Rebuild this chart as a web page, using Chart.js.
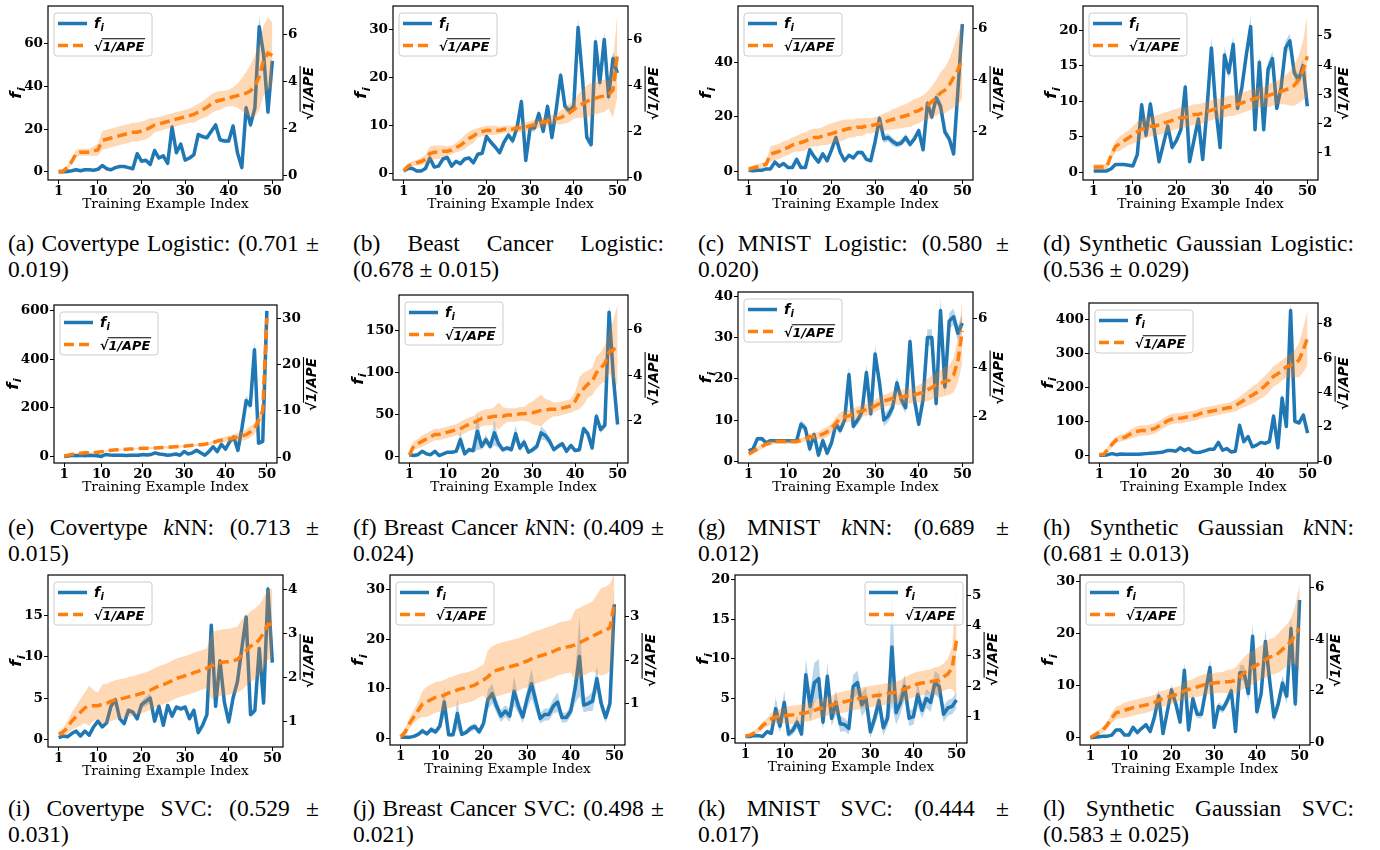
<!DOCTYPE html>
<html>
<head>
<meta charset="utf-8">
<title>f_i vs sqrt(1/APE)</title>
<script src="https://cdn.jsdelivr.net/npm/chart.js@4.4.1/dist/chart.umd.min.js"></script>
<style>
  body { margin: 0; background: #fff; width: 1380px; height: 850px; position: relative; overflow: hidden; }
  canvas { position: absolute; }
  .cap { position: absolute; width: 311px; font-family: "Liberation Serif", serif; font-size: 23.5px; line-height: 26px; color: #000; }
  .cap .l1 { text-align: justify; text-align-last: justify; white-space: nowrap; }
</style>
</head>
<body>
<script>
// x values and ticks
const exampleIndex = [1,2,3,4,5,6,7,8,9,10,11,12,13,14,15,16,17,18,19,20,21,22,23,24,25,
  26,27,28,29,30,31,32,33,34,35,36,37,38,39,40,41,42,43,44,45,46,47,48,49,50];
const xTicks = [1, 10, 20, 30, 40, 50];

// (a) Covertype Logistic
const covLogF = [0.2,0.1,0.2,0.5,1,0.5,1,1,0.8,1.2,
  3,1.5,1,2,2.5,2.5,2,1.5,8.5,5,
  5.5,3.5,10,6.5,7.5,4,21,9,13,5.5,
  6.5,8,17.5,16.5,16,19,22,15,14.5,14.5,
  21.5,9,2,30,22,30,68,55,28,52];
const covLogFErr = [0.3,0.3,0.3,0.3,0.3,0.3,0.3,0.3,0.3,0.3,
  0.5,0.3,0.3,0.4,0.4,0.4,0.4,0.4,0.8,0.5,
  0.5,0.5,0.8,0.6,0.6,0.5,1.5,0.8,1,0.6,
  0.6,0.6,1,1,1,1,1.2,1,1,1,
  1.2,1,1,2,1.5,2,5,3,2,3];
const covLogA = [0.15,0.2,0.35,0.6,0.95,1,1,1,1.05,1.1,
  1.5,1.55,1.6,1.65,1.7,1.75,1.8,1.85,1.85,1.9,
  1.95,2.05,2.15,2.2,2.25,2.3,2.35,2.4,2.45,2.5,
  2.55,2.6,2.7,2.8,2.9,3.05,3.15,3.2,3.25,3.3,
  3.35,3.4,3.45,3.5,3.6,3.8,4.2,4.9,5.2,5.1];
const covLogAErr = [0.1,0.1,0.1,0.12,0.15,0.15,0.15,0.15,0.2,0.25,
  0.4,0.4,0.4,0.4,0.4,0.4,0.4,0.4,0.4,0.4,
  0.4,0.4,0.3,0.3,0.3,0.3,0.3,0.3,0.3,0.3,
  0.3,0.35,0.35,0.35,0.4,0.4,0.4,0.4,0.35,0.35,
  0.4,0.5,0.7,0.9,1.1,1.3,1.4,1.5,1.5,1.4];

// (b) Breast Cancer Logistic
const bcLogF = [0.5,1,1,0.5,0.5,1,3.2,1.3,1.5,3,
  3.3,1.5,2.5,2,3,3.2,2.2,4,4.2,7.7,
  6.5,5.5,4.3,6.5,8,6.8,9.5,15,2.7,9.5,
  9.5,12.5,8.8,14,7.5,13.5,20.5,14,13,14,
  30.5,20,7.5,6,27.5,19,28,16,24,21];
const bcLogFErr = [0.3,0.3,0.3,0.3,0.3,0.3,0.4,0.3,0.3,0.3,
  0.4,0.3,0.3,0.3,0.3,0.3,0.3,0.3,0.4,0.5,
  0.5,0.4,0.4,0.5,0.6,0.8,0.6,1,0.5,0.7,
  0.8,0.8,0.8,0.8,0.8,0.8,1,0.8,0.8,0.8,
  2,1,1,0.8,1.5,1.5,1.5,1.2,1.5,2];
const bcLogA = [0.3,0.5,0.6,0.65,0.7,0.8,1.05,1.1,1.1,1.15,
  1.15,1.2,1.3,1.4,1.55,1.7,1.8,1.95,2,2.05,
  2.05,2.05,2.05,2.1,2.1,2.1,2.15,2.15,2.2,2.25,
  2.3,2.35,2.4,2.45,2.5,2.55,2.6,2.7,2.8,2.95,
  3.1,3.2,3.3,3.4,3.45,3.5,3.55,3.6,3.8,5.3];
const bcLogAErr = [0.1,0.1,0.12,0.12,0.15,0.2,0.3,0.3,0.3,0.25,
  0.2,0.2,0.2,0.25,0.3,0.3,0.3,0.2,0.2,0.2,
  0.2,0.2,0.15,0.15,0.15,0.15,0.15,0.2,0.2,0.2,
  0.2,0.2,0.2,0.2,0.2,0.2,0.3,0.35,0.4,0.4,
  0.5,0.6,0.7,0.7,0.7,0.7,0.7,0.6,1.2,1.8];

// (c) MNIST Logistic
const mnLogF = [0.5,0.3,0.5,0.5,1,1,3.5,2,3,1.5,
  1.5,4.5,1.5,1.5,8,5.5,3.5,6.5,4,8,
  12.5,7,4,6,5,7,7,4.5,4,11,
  19.5,12,12.5,11,10,10.5,12.5,10,12,15,
  8,25,20,27,24,14.5,12,6.5,30,54];
const mnLogFErr = [0.3,0.3,0.3,0.3,0.3,0.3,0.8,0.5,0.5,0.4,
  0.4,0.6,0.4,0.4,0.8,0.6,0.5,0.6,0.5,0.8,
  1,0.7,0.5,0.6,0.5,0.7,0.7,0.5,0.5,1,
  1.5,1.5,1.5,1.5,1.2,1.2,1.5,1.2,1.2,1.2,
  1,1.5,1.5,2,2,1.5,1.5,1,3,3];
const mnLogA = [0.5,0.55,0.6,0.65,0.7,1.1,1.15,1.2,1.3,1.35,
  1.45,1.5,1.55,1.6,1.7,1.75,1.75,1.8,1.85,1.9,
  1.95,2,2.05,2.1,2.1,2.15,2.15,2.2,2.2,2.25,
  2.3,2.35,2.4,2.45,2.5,2.55,2.6,2.65,2.75,2.8,
  2.9,3,3.15,3.3,3.5,3.6,3.8,4.1,4.4,4.8];
const mnLogAErr = [0.1,0.1,0.1,0.1,0.1,0.3,0.3,0.3,0.3,0.3,
  0.3,0.3,0.35,0.35,0.35,0.35,0.35,0.35,0.4,0.4,
  0.4,0.4,0.4,0.35,0.35,0.35,0.35,0.3,0.3,0.3,
  0.3,0.35,0.35,0.4,0.4,0.45,0.45,0.5,0.5,0.5,
  0.5,0.55,0.6,0.7,0.8,0.9,1,1.2,1.4,1.5];

// (d) Synthetic Gaussian Logistic
const sgLogF = [0.2,0.2,0.2,0.2,0.5,1.1,1.1,1.1,1,0.9,
  2.5,9.5,5.2,9.6,5.5,1.5,4,6.5,3.5,4.5,
  6,12,1.5,4.5,7.5,1.8,9,17.5,9,3.5,
  16.5,14,18,9,12,16.5,20.5,6,15.5,6,
  14.5,16,9,12,17.5,18.5,14,13,15,9.3];
const sgLogFErr = [0.1,0.1,0.1,0.1,0.1,0.2,0.2,0.2,0.2,0.2,
  0.3,0.8,0.6,0.8,0.5,0.3,0.4,0.5,0.4,0.4,
  0.5,0.8,0.3,0.5,0.6,0.3,0.6,1.5,0.6,0.4,
  1.2,0.8,1.2,0.6,0.8,1,1.5,0.5,1,0.5,
  1,1,0.6,0.8,1,1,0.8,0.8,1,0.6];
const sgLogA = [0.5,0.5,0.5,0.5,0.9,1.2,1.3,1.4,1.5,1.6,
  1.7,1.8,1.85,1.9,1.9,1.95,2,2.05,2.1,2.15,
  2.2,2.2,2.25,2.3,2.3,2.35,2.4,2.45,2.5,2.5,
  2.55,2.6,2.6,2.65,2.7,2.75,2.8,2.85,2.9,2.9,
  2.95,3,3.05,3.1,3.15,3.2,3.3,3.5,3.8,4.3];
const sgLogAErr = [0.1,0.1,0.1,0.1,0.15,0.2,0.25,0.25,0.25,0.3,
  0.35,0.35,0.35,0.35,0.35,0.35,0.35,0.35,0.35,0.35,
  0.35,0.35,0.35,0.35,0.35,0.35,0.35,0.35,0.35,0.35,
  0.35,0.35,0.35,0.35,0.35,0.35,0.35,0.35,0.35,0.35,
  0.4,0.4,0.4,0.45,0.5,0.6,0.7,0.8,1,1.4];

// (e) Covertype kNN
const covKnnF = [0,2,5,3,5,3,5,4,3,0,
  8,6,5,5,5,4,5,5,5,8,
  6,8,15,10,8,5,7,10,5,20,
  10,15,25,15,5,20,40,20,50,30,
  60,80,25,120,230,210,440,55,62,600];
const covKnnFErr = [1,1,1,1,1,1,1,1,1,1,
  2,2,2,2,2,2,2,2,2,2,
  2,2,2,2,2,2,2,2,2,2,
  3,3,3,3,3,4,5,5,6,6,
  8,10,10,12,20,15,40,10,10,15];
const covKnnA = [0.3,0.5,0.7,0.8,0.9,1,1,1,1.1,1.2,
  1.4,1.5,1.6,1.65,1.7,1.75,1.8,1.85,1.9,1.95,
  2,2,2.05,2.1,2.15,2.2,2.25,2.3,2.35,2.4,
  2.5,2.6,2.7,2.75,2.85,3,3.2,3.5,3.7,3.9,
  4,4.2,4.4,4.6,4.9,5.5,6.2,8,10,30];
const covKnnAErr = [0.1,0.1,0.1,0.1,0.1,0.1,0.1,0.1,0.1,0.1,
  0.15,0.15,0.15,0.15,0.15,0.15,0.15,0.15,0.15,0.15,
  0.2,0.2,0.2,0.2,0.2,0.2,0.2,0.2,0.2,0.2,
  0.2,0.2,0.25,0.25,0.3,0.3,0.4,0.5,0.5,0.6,
  0.7,0.8,0.9,1,1.1,1.2,1.2,1.2,1.2,1];

// (f) Breast Cancer kNN
const bcKnnF = [2,1,2,6,3,2,6,1,3,5,
  5,6,20,3,8,7,30,12,20,12,
  28,15,8,10,8,27,10,17,5,8,
  12,28,25,18,8,12,15,6,13,7,
  8,33,27,10,48,32,37,172,95,38];
const bcKnnFErr = [1,1,1,1,1,1,1,1,1,1,
  1,1,10,2,3,3,22,4,6,4,
  15,5,3,3,3,10,4,5,2,3,
  4,8,6,5,2,3,3,2,3,2,
  2,4,4,3,4,4,4,10,8,3];
const bcKnnA = [0.5,0.9,1,1.1,1.2,1.3,1.4,1.4,1.45,1.5,
  1.55,1.6,1.65,1.75,1.85,1.9,2,2.1,2.15,2.15,
  2.2,2.2,2.2,2.25,2.25,2.25,2.3,2.3,2.35,2.35,
  2.4,2.45,2.45,2.5,2.5,2.5,2.55,2.6,2.65,2.85,
  3.2,3.4,3.6,3.7,4.1,4.3,4.5,5,5.1,5.3];
const bcKnnAErr = [0.15,0.2,0.2,0.25,0.25,0.25,0.25,0.25,0.25,0.25,
  0.25,0.25,0.3,0.3,0.3,0.3,0.35,0.35,0.35,0.35,
  0.4,0.6,0.4,0.3,0.3,0.3,0.3,0.3,0.4,0.5,
  0.6,0.7,0.5,0.4,0.3,0.3,0.3,0.3,0.3,0.4,
  0.7,0.7,0.6,0.6,0.7,0.7,0.8,0.9,1.3,1.8];

// (g) MNIST kNN
const mnKnnF = [2.5,3,5.5,5.5,4.5,5,5,5,5,5,
  5,5,9,8,3,6.5,1.5,5,2,4.5,
  9,7.5,10,21,8.5,10,12,21.5,11.5,26,
  19,10,11,13,19,15,13,29,15,9,
  15,30,30,14,36.5,18,34,35,31,33.5];
const mnKnnFErr = [0.5,0.5,0.5,0.5,0.3,0.3,0.3,0.3,0.3,0.3,
  0.3,0.3,1,1,1,1,0.8,1,0.8,1,
  1,1,1,2,1,1,1.5,2,1.5,2,
  1.5,1.5,1.5,1.5,1.5,1.5,1.5,2,1.5,1,
  1.5,2,2,2,3,2,2,2,2,2];
const mnKnnA = [0.5,0.6,0.7,0.8,0.9,0.95,1,1,1,1,
  1,1,1.05,1.1,1.2,1.2,1.25,1.3,1.4,1.55,
  1.75,1.95,2,2.05,2.1,2.2,2.25,2.3,2.35,2.45,
  2.55,2.65,2.7,2.75,2.8,2.8,2.85,2.85,2.9,2.95,
  3,3.1,3.2,3.3,3.35,3.45,3.5,3.7,4.3,5.5];
const mnKnnAErr = [0.1,0.1,0.1,0.1,0.1,0.1,0.1,0.1,0.1,0.1,
  0.1,0.1,0.1,0.1,0.15,0.15,0.15,0.2,0.2,0.2,
  0.25,0.25,0.25,0.25,0.25,0.25,0.25,0.25,0.25,0.25,
  0.25,0.25,0.25,0.3,0.3,0.3,0.3,0.3,0.3,0.35,
  0.4,0.45,0.5,0.5,0.55,0.6,0.6,0.7,0.9,1.3];

// (h) Synthetic Gaussian kNN
const sgKnnF = [0,0,2,5,2,4,3,3,3,3,
  4,5,6,7,8,10,14,14,12,22,
  14,20,10,8,10,14,18,18,38,15,
  20,10,12,88,40,55,25,30,38,35,
  40,115,22,168,85,425,100,95,118,65];
const sgKnnFErr = [1,1,1,1,1,1,1,1,1,1,
  1,1,1,1,1,1,2,2,2,3,
  2,3,2,2,2,2,3,3,5,2,
  3,2,2,8,4,5,3,3,4,3,
  4,10,3,12,6,25,6,6,8,5];
const sgKnnA = [0.4,0.4,0.7,1,1.25,1.35,1.4,1.55,1.65,1.75,
  1.8,1.8,1.85,1.9,2.05,2.2,2.35,2.45,2.5,2.5,
  2.55,2.6,2.65,2.7,2.8,2.85,2.9,2.95,3,3.05,
  3.1,3.15,3.25,3.4,3.55,3.7,3.85,4,4.2,4.4,
  4.65,4.95,5.1,5.3,5.5,5.6,5.7,5.9,6.5,7.2];
const sgKnnAErr = [0.1,0.1,0.15,0.2,0.2,0.2,0.2,0.25,0.3,0.3,
  0.3,0.3,0.3,0.3,0.3,0.3,0.3,0.3,0.3,0.3,
  0.3,0.3,0.3,0.3,0.3,0.3,0.3,0.3,0.3,0.3,
  0.3,0.3,0.35,0.35,0.4,0.45,0.5,0.5,0.55,0.6,
  0.6,0.6,0.6,0.6,0.6,0.7,0.8,1,1.3,1.6];

// (i) Covertype SVC
const covSvcF = [0.2,0.4,0.3,0.7,1,0.4,1,0.5,1.5,2.2,
  1.5,2,4,4.8,2.5,1.9,3.5,3.3,2.5,4.2,
  4.6,5,2.2,4,1.7,4.1,2.8,3.9,3.7,3.9,
  2.5,3.5,0.8,1.7,3,13.8,4,9.5,4.5,2.1,
  5,7,11,14.8,3,3.5,11,4.4,18.2,9.3];
const covSvcFErr = [0.1,0.1,0.1,0.1,0.1,0.1,0.1,0.1,0.1,0.1,
  0.2,0.2,0.3,0.4,0.3,0.2,0.3,0.3,0.3,0.4,
  0.6,0.6,0.3,0.3,0.2,0.3,0.3,0.3,0.3,0.3,
  0.3,0.3,0.2,0.3,0.3,0.6,0.4,0.5,0.4,0.3,
  0.5,0.5,0.5,0.7,0.4,0.4,0.6,0.4,1,0.6];
const covSvcA = [0.7,0.75,0.85,1,1.1,1.2,1.3,1.35,1.35,1.35,
  1.38,1.4,1.45,1.48,1.5,1.52,1.55,1.57,1.6,1.63,
  1.66,1.7,1.75,1.8,1.83,1.87,1.92,1.97,2,2.03,
  2.06,2.1,2.13,2.17,2.2,2.25,2.3,2.32,2.34,2.35,
  2.37,2.4,2.5,2.6,2.7,2.75,2.85,3,3.2,3.2];
const covSvcAErr = [0.05,0.1,0.15,0.2,0.25,0.3,0.35,0.45,0.35,0.3,
  0.45,0.45,0.45,0.45,0.45,0.45,0.45,0.45,0.45,0.45,
  0.45,0.45,0.45,0.45,0.45,0.45,0.45,0.45,0.45,0.45,
  0.45,0.45,0.45,0.45,0.45,0.75,0.75,0.75,0.75,0.75,
  0.75,0.75,0.8,0.8,0.8,0.8,0.8,0.8,0.8,0.8];

// (j) Breast Cancer SVC
const bcSvcF = [0.2,0.2,0.2,0.4,0.8,1.5,0.9,1.8,1.3,2.5,
  7.3,0.7,0.7,5,0.8,1.2,2,2.4,1.3,3,
  7.8,9,6.5,4.5,5.5,4.5,9.5,6.5,4.3,8,
  11,7.5,4,4.8,4.8,6.5,7.3,4.2,4.2,5.5,
  10,16.5,6.7,7,7.5,12,7,4.2,7,27];
const bcSvcFErr = [0.2,0.2,0.2,0.3,0.4,0.6,0.4,0.6,0.5,0.8,
  3,0.4,0.4,3,0.4,0.5,0.7,0.7,0.5,1,
  2,2,1.5,1.2,1.2,1.2,3,1.5,1.2,2,
  3,2,1,1.2,1.2,1.5,2,1,1,1.2,
  3,8,1.5,1.5,2,2.5,1.5,1,1.5,4];
const bcSvcA = [0.25,0.35,0.55,0.7,0.85,1,1.05,1.1,1.15,1.17,
  1.2,1.25,1.28,1.32,1.35,1.37,1.4,1.43,1.5,1.55,
  1.62,1.72,1.77,1.8,1.83,1.85,1.88,1.9,1.95,1.98,
  2.03,2.07,2.1,2.13,2.17,2.2,2.25,2.28,2.3,2.32,
  2.35,2.4,2.45,2.5,2.55,2.6,2.65,2.68,2.75,3.3];
const bcSvcAErr = [0.05,0.1,0.12,0.15,0.2,0.3,0.35,0.35,0.35,0.35,
  0.35,0.35,0.35,0.35,0.35,0.35,0.35,0.35,0.35,0.35,
  0.6,0.6,0.6,0.6,0.6,0.6,0.6,0.6,0.6,0.6,
  0.6,0.6,0.6,0.6,0.6,0.6,0.6,0.6,0.6,0.6,
  0.8,0.8,0.8,0.8,0.8,0.9,1,1,1,0.7];

// (k) MNIST SVC
const mnSvcF = [0.2,0.2,0.3,0.3,0.2,0.8,0.6,3.7,1.5,4.5,
  0.5,1,2,0.5,8,4,7,7.5,2,7.8,
  2.5,4.5,1.8,1.7,1.2,6.5,7,4.2,5,0.8,
  2.5,4.7,1.3,2.5,11.5,3.2,4.5,6.5,2.5,2.7,
  5.5,3.5,5,4.5,7,6.5,3,3.8,4,4.8];
const mnSvcFErr = [0.1,0.1,0.1,0.1,0.1,0.3,0.3,1.5,0.8,1.5,
  0.4,0.6,0.8,0.4,2,2,2.5,2.5,1,1.7,
  1,1.5,1,0.8,0.8,1.5,1.5,1.5,1.5,0.8,
  1,1.5,1,1,7.5,1.5,1.5,1.5,1,1,
  1.5,1,1.2,1.2,1.5,1.5,1,1,1,1];
const mnSvcA = [0.35,0.38,0.45,0.55,0.7,0.8,0.92,0.98,1,1.02,
  1.04,1.05,1.07,1.1,1.12,1.15,1.2,1.25,1.28,1.32,
  1.38,1.42,1.45,1.48,1.52,1.55,1.58,1.6,1.63,1.65,
  1.68,1.7,1.72,1.75,1.78,1.8,1.85,1.9,1.97,2.03,
  2.07,2.1,2.13,2.15,2.17,2.2,2.3,2.4,2.6,3.5];
const mnSvcAErr = [0.05,0.05,0.08,0.1,0.12,0.15,0.2,0.2,0.25,0.25,
  0.3,0.3,0.3,0.3,0.3,0.3,0.3,0.3,0.3,0.3,
  0.3,0.35,0.35,0.35,0.35,0.35,0.35,0.35,0.35,0.35,
  0.35,0.35,0.35,0.35,0.35,0.35,0.35,0.4,0.4,0.4,
  0.4,0.4,0.4,0.4,0.45,0.45,0.45,0.5,0.7,1.8];

// (l) Synthetic Gaussian SVC
const sgSvcF = [0,0.1,0.2,0.3,0.3,0.5,1.5,1.5,0.5,0.5,
  2,1,1.8,2.5,1.2,4,8,0.8,5,9.2,
  6.5,3,13,1.5,7.5,4.5,4.5,9,13.5,2,
  6,5.5,7,9,1.2,12.5,12.5,8.5,19.5,5,
  8.5,18.5,11,4,6.5,10.5,8,21,6.5,26.5];
const sgSvcFErr = [0.1,0.1,0.1,0.1,0.1,0.2,0.3,0.3,0.2,0.2,
  0.3,0.3,0.3,0.4,0.3,0.6,1.5,0.4,0.8,1,
  0.8,0.6,1.5,0.5,0.8,0.8,0.8,1,1.5,0.5,
  0.8,0.8,1,1,0.5,1.5,1.5,1.5,2.5,1,
  1,2.5,1.5,1,1.5,1.5,1.5,2.5,1.5,3];
const sgSvcA = [0.2,0.3,0.4,0.5,0.7,0.95,1.15,1.2,1.25,1.3,
  1.35,1.38,1.42,1.45,1.5,1.55,1.65,1.7,1.75,1.8,
  1.85,1.9,2,2.05,2.1,2.15,2.2,2.25,2.28,2.3,
  2.32,2.33,2.35,2.36,2.4,2.55,2.7,2.8,2.9,3,
  3.1,3.2,3.3,3.35,3.45,3.6,3.75,3.9,4.2,4.4];
const sgSvcAErr = [0.05,0.08,0.1,0.12,0.15,0.2,0.25,0.25,0.3,0.3,
  0.3,0.3,0.3,0.3,0.3,0.3,0.3,0.3,0.3,0.3,
  0.3,0.3,0.35,0.35,0.35,0.4,0.4,0.4,0.4,0.4,
  0.4,0.4,0.45,0.45,0.5,0.55,0.6,0.65,0.65,0.65,
  0.65,0.7,0.7,0.7,0.75,0.8,0.8,0.9,1.1,1.7];

// captions
const captions = [
  ['(a) Covertype Logistic: (0.701 ±', '0.019)'],
  ['(b) Beast Cancer Logistic:', '(0.678 ± 0.015)'],
  ['(c) MNIST Logistic: (0.580 ±', '0.020)'],
  ['(d) Synthetic Gaussian Logistic:', '(0.536 ± 0.029)'],
  ['(e) Covertype <i>k</i>NN: (0.713 ±', '0.015)'],
  ['(f) Breast Cancer <i>k</i>NN: (0.409 ±', '0.024)'],
  ['(g) MNIST <i>k</i>NN: (0.689 ±', '0.012)'],
  ['(h) Synthetic Gaussian <i>k</i>NN:', '(0.681 ± 0.013)'],
  ['(i) Covertype SVC: (0.529 ±', '0.031)'],
  ['(j) Breast Cancer SVC: (0.498 ±', '0.021)'],
  ['(k) MNIST SVC: (0.444 ±', '0.017)'],
  ['(l) Synthetic Gaussian SVC:', '(0.583 ± 0.025)']
];

// panels: data, ticks and axis limits
const panels = [
  { f: covLogF, fErr: covLogFErr, a: covLogA, aErr: covLogAErr, fTicks: [0,20,40,60], aTicks: [0,2,4,6], fLim: [-3.8, 77.7], aLim: [-0.18, 7.2] },
  { f: bcLogF, fErr: bcLogFErr, a: bcLogA, aErr: bcLogAErr, fTicks: [0,10,20,30], aTicks: [0,2,4,6], fLim: [-1.4, 35], aLim: [-0.1, 7.44] },
  { f: mnLogF, fErr: mnLogFErr, a: mnLogA, aErr: mnLogAErr, fTicks: [0,20,40], aTicks: [2,4,6], fLim: [-3.05, 60.6], aLim: [0.08, 6.9] },
  { f: sgLogF, fErr: sgLogFErr, a: sgLogA, aErr: sgLogAErr, fTicks: [0,5,10,15,20], aTicks: [1,2,3,4,5], fLim: [-1.08, 23.4], aLim: [0.05, 6.03] },
  { f: covKnnF, fErr: covKnnFErr, a: covKnnA, aErr: covKnnAErr, fTicks: [0,200,400,600], aTicks: [0,10,20,30], fLim: [-27, 624], aLim: [-1.2, 32.8] },
  { f: bcKnnF, fErr: bcKnnFErr, a: bcKnnA, aErr: bcKnnAErr, fTicks: [0,50,100,150], aTicks: [2,4,6], fLim: [-7.9, 192.5], aLim: [0.15, 7.5] },
  { f: mnKnnF, fErr: mnKnnFErr, a: mnKnnA, aErr: mnKnnAErr, fTicks: [0,10,20,30,40], aTicks: [2,4,6], fLim: [-0.4, 41], aLim: [0.13, 7.08] },
  { f: sgKnnF, fErr: sgKnnFErr, a: sgKnnA, aErr: sgKnnAErr, fTicks: [0,100,200,300,400], aTicks: [0,2,4,6,8], fLim: [-22.5, 447], aLim: [-0.1, 9.22] },
  { f: covSvcF, fErr: covSvcFErr, a: covSvcA, aErr: covSvcAErr, fTicks: [0,5,10,15], aTicks: [1,2,3,4], fLim: [-0.93, 19.9], aLim: [0.41, 4.32] },
  { f: bcSvcF, fErr: bcSvcFErr, a: bcSvcA, aErr: bcSvcAErr, fTicks: [0,10,20,30], aTicks: [1,2,3], fLim: [-1.34, 32.9], aLim: [0.06, 3.95] },
  { f: mnSvcF, fErr: mnSvcFErr, a: mnSvcA, aErr: mnSvcAErr, fTicks: [0,5,10,15,20], aTicks: [1,2,3,4,5], fLim: [-0.63, 20.6], aLim: [0.12, 5.67], legendRight: true },
  { f: sgSvcF, fErr: sgSvcFErr, a: sgSvcA, aErr: sgSvcAErr, fTicks: [0,10,20,30], aTicks: [0,2,4,6], fLim: [-1.4, 31.3], aLim: [-0.09, 6.47] }
];

// plot area of each panel on the page: left, top, right, bottom
const plotBoxes = [
  [48,6,283,180], [393,6,628,180], [738,6,973,180], [1083,6,1318,180],
  [54,305,277,463], [399,295,628,463], [738,292,973,463], [1089,303,1318,463],
  [48,575,283,747], [390,575,625,745], [735,575,967,743], [1080,575,1310,745]
];
const captionTops = [230, 514, 795];

const BLUE = '#1f77b4';
const ORANGE = '#ff7f0e';
const BLUE_BAND = 'rgba(31,119,180,0.3)';
const ORANGE_BAND = 'rgba(255,127,14,0.3)';
const tickFont = { family: 'DejaVu Serif', size: 13.5, weight: 'bold' };

// f_i written with a subscript
function drawFi(ctx, x, y, size, dry) {
  ctx.font = `italic bold ${size}px "DejaVu Sans"`;
  const fw = ctx.measureText('f').width;
  if (!dry) ctx.fillText('f', x, y);
  ctx.font = `italic bold ${size * 0.7}px "DejaVu Sans"`;
  const iw = ctx.measureText('i').width;
  if (!dry) ctx.fillText('i', x + fw + 0.5, y + size * 0.22);
  return fw + 0.5 + iw;
}

// square root of 1/APE with its bar
function drawSqrt(ctx, x, y, size, dry) {
  ctx.font = `bold ${size}px "DejaVu Sans"`;
  const rw = ctx.measureText('\u221A').width;
  if (!dry) ctx.fillText('\u221A', x, y);
  ctx.font = `italic bold ${size}px "DejaVu Sans"`;
  const tw = ctx.measureText('1/APE').width;
  if (!dry) {
    ctx.fillText('1/APE', x + rw, y);
    ctx.lineWidth = Math.max(1, size * 0.08);
    ctx.beginPath();
    ctx.moveTo(x + rw - size * 0.06, y - size * 0.92);
    ctx.lineTo(x + rw + tw + 1, y - size * 0.92);
    ctx.stroke();
  }
  return rw + tw + 1;
}

function drawRotated(ctx, fn, cx, cy, size) {
  ctx.save();
  ctx.translate(cx, cy);
  ctx.rotate(-Math.PI / 2);
  const w = fn(ctx, 0, 0, size, true);
  fn(ctx, -w / 2, size * 0.38, size, false);
  ctx.restore();
}

function makeDecor(p) {
  return {
    id: 'decor',
    afterDraw(chart) {
      const ctx = chart.ctx;
      const area = chart.chartArea;
      ctx.save();
      ctx.strokeStyle = '#000';
      ctx.fillStyle = '#000';
      ctx.lineWidth = 1.2;
      ctx.strokeRect(area.left, area.top, area.right - area.left, area.bottom - area.top);

      // axis titles
      ctx.font = '13.7px "DejaVu Serif"';
      ctx.textAlign = 'center';
      ctx.textBaseline = 'middle';
      ctx.fillText('Training Example Index', (area.left + area.right) / 2, area.bottom + 24);
      ctx.textAlign = 'left';
      ctx.textBaseline = 'alphabetic';
      ctx.font = 'bold 13.5px "DejaVu Serif"';
      const leftW = Math.max(...p.fTicks.map(t => ctx.measureText(String(t)).width));
      const rightW = Math.max(...p.aTicks.map(t => ctx.measureText(String(t)).width));
      const midY = (area.top + area.bottom) / 2;
      drawRotated(ctx, drawFi, area.left - 6 - leftW - 8, midY, 16);
      drawRotated(ctx, drawSqrt, area.right + 5 + rightW + 10, midY, 13.5);

      // legend
      const w = 98, h = 43;
      const lx = p.legendRight ? area.right - 4 - w : area.left + 6;
      const ly = area.top + 7;
      ctx.beginPath();
      ctx.roundRect(lx, ly, w, h, 3);
      ctx.fillStyle = 'rgba(255,255,255,0.8)';
      ctx.fill();
      ctx.strokeStyle = '#cccccc';
      ctx.lineWidth = 1;
      ctx.stroke();
      ctx.lineWidth = 3.5;
      ctx.strokeStyle = BLUE;
      ctx.beginPath();
      ctx.moveTo(lx + 4, ly + 10.5);
      ctx.lineTo(lx + 33, ly + 10.5);
      ctx.stroke();
      ctx.strokeStyle = ORANGE;
      ctx.setLineDash([10, 5]);
      ctx.beginPath();
      ctx.moveTo(lx + 4, ly + 32.5);
      ctx.lineTo(lx + 33, ly + 32.5);
      ctx.stroke();
      ctx.setLineDash([]);
      ctx.fillStyle = '#000';
      ctx.strokeStyle = '#000';
      drawFi(ctx, lx + 40, ly + 15, 14, false);
      drawSqrt(ctx, lx + 40, ly + 37.5, 12.8, false);
      ctx.restore();
    }
  };
}

function points(values) {
  return values.map((v, i) => ({ x: exampleIndex[i], y: v }));
}

function axisOpts(extra, pad) {
  return Object.assign({
    grid: { display: true, drawOnChartArea: false, drawTicks: true, tickLength: 4, tickColor: '#000', tickWidth: 1 },
    border: { display: false },
    ticks: { font: tickFont, color: '#000', padding: pad, autoSkip: false, maxRotation: 0, callback: v => String(v) }
  }, extra);
}

panels.forEach((p, n) => {
  const col = n % 4, row = Math.floor(n / 4);
  const box = plotBoxes[n];
  const canvasLeft = col * 345;
  const canvasTop = box[1] - 16;
  const canvasH = box[3] - canvasTop + 38;

  const canvas = document.createElement('canvas');
  canvas.width = 345;
  canvas.height = canvasH;
  canvas.style.left = canvasLeft + 'px';
  canvas.style.top = canvasTop + 'px';
  document.body.appendChild(canvas);

  const fLow = p.f.map((v, i) => v - p.fErr[i]);
  const fHigh = p.f.map((v, i) => v + p.fErr[i]);
  const aLow = p.a.map((v, i) => v - p.aErr[i]);
  const aHigh = p.a.map((v, i) => v + p.aErr[i]);

  new Chart(canvas, {
    type: 'line',
    data: {
      datasets: [
        { data: points(fLow), yAxisID: 'y', borderWidth: 0, borderColor: 'transparent', fill: false, order: 6 },
        { data: points(fHigh), yAxisID: 'y', borderWidth: 0, borderColor: 'transparent', backgroundColor: BLUE_BAND, fill: '-1', order: 5 },
        { data: points(aLow), yAxisID: 'y2', borderWidth: 0, borderColor: 'transparent', fill: false, order: 3 },
        { data: points(aHigh), yAxisID: 'y2', borderWidth: 0, borderColor: 'transparent', backgroundColor: ORANGE_BAND, fill: '-1', order: 2 },
        { data: points(p.f), yAxisID: 'y', borderColor: BLUE, borderWidth: 3.5, borderJoinStyle: 'round', fill: false, order: 4 },
        { data: points(p.a), yAxisID: 'y2', borderColor: ORANGE, borderWidth: 3.5, borderDash: [10, 5], fill: false, order: 1 }
      ]
    },
    options: {
      responsive: false,
      animation: false,
      devicePixelRatio: 1,
      layout: { padding: { top: box[1] - canvasTop, left: 0, right: 0, bottom: 0 } },
      elements: { point: { radius: 0 }, line: { tension: 0 } },
      plugins: { legend: { display: false }, tooltip: { enabled: false } },
      scales: {
        x: axisOpts({
          type: 'linear', min: -1.45, max: 52.45,
          afterBuildTicks: s => { s.ticks = xTicks.map(v => ({ value: v })); },
          afterFit: s => { s.height = canvasH - (box[3] - canvasTop); }
        }, -1),
        y: axisOpts({
          position: 'left', min: p.fLim[0], max: p.fLim[1],
          afterBuildTicks: s => { s.ticks = p.fTicks.map(v => ({ value: v })); },
          afterFit: s => { s.width = box[0] - canvasLeft; }
        }, 1),
        y2: axisOpts({
          position: 'right', min: p.aLim[0], max: p.aLim[1],
          afterBuildTicks: s => { s.ticks = p.aTicks.map(v => ({ value: v })); },
          afterFit: s => { s.width = canvasLeft + 345 - box[2]; }
        }, 1)
      }
    },
    plugins: [makeDecor(p)]
  });

  const cap = document.createElement('div');
  cap.className = 'cap';
  cap.style.left = (canvasLeft + 8) + 'px';
  cap.style.top = captionTops[row] + 'px';
  cap.innerHTML = '<div class="l1">' + captions[n][0] + '</div><div>' + captions[n][1] + '</div>';
  document.body.appendChild(cap);
});
</script>
</body>
</html>
